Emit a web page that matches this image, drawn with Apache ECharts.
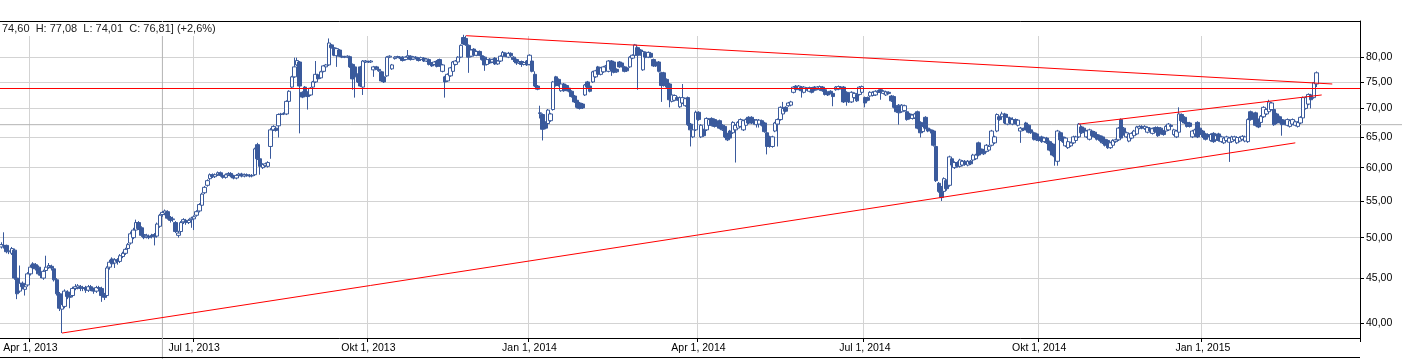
<!DOCTYPE html>
<html><head><meta charset="utf-8">
<script src="https://cdn.jsdelivr.net/npm/echarts@6/dist/echarts.min.js"></script>
<style>html,body{margin:0;padding:0;background:#fff}#c{width:1402px;height:359px}</style>
</head><body><div id="c"></div>
<script>
// ---------- data ----------
const slotCount = 515; // trading-day slots on the x axis (data + empty right margin)
const holidays = ['2013-03-29','2013-04-01','2013-05-01','2013-12-24','2013-12-25','2013-12-26','2013-12-31','2014-01-01','2014-04-18','2014-04-21','2014-05-01','2014-12-24','2014-12-25','2014-12-26','2014-12-31','2015-01-01'];
const quarterStarts = [11,73,139,200,264,327,393,455];
const quarterLabels = ['Apr 1, 2013','Jul 1, 2013','Okt 1, 2013','Jan 1, 2014','Apr 1, 2014','Jul 1, 2014','Okt 1, 2014','Jan 1, 2015'];
const yTicks = [40,45,50,55,60,65,70,75,80];
const yMin = 38.5, yMax = 87.9;
// [open, close, low, high]
const ohlc = [
[48.8,49.1,48.6,49.4],[49.0,48.9,48.6,50.7],[49.0,48.2,48.0,49.1],[48.2,48.3,47.9,48.6],[48.0,48.6,47.8,48.8],
[48.4,45.0,44.8,48.6],[45.0,43.2,42.6,45.2],[43.5,44.4,43.3,46.5],[44.4,44.0,43.7,44.6],[43.7,44.0,43.0,44.3],
[44.2,45.5,44.0,45.7],[45.5,46.3,45.3,46.6],[46.7,46.2,46.0,46.9],[46.6,46.1,45.9,46.8],[46.3,45.5,45.3,46.5],
[45.6,45.3,45.0,45.8],[45.0,45.8,44.8,46.0],[45.9,46.3,45.7,47.7],[46.3,46.5,46.1,46.8],[46.4,46.2,45.9,46.6],
[46.1,44.8,44.6,46.3],[44.8,43.2,43.0,45.0],[43.2,41.6,41.3,43.4],[41.5,42.0,39.0,42.3],[41.8,43.5,41.6,43.7],
[43.4,42.9,42.6,43.6],[42.9,42.8,41.6,43.1],[43.0,43.8,42.8,44.0],[43.8,44.0,43.6,44.3],[43.9,44.1,43.7,44.3],
[44.0,43.8,43.5,44.2],[43.8,43.9,43.5,44.1],[43.9,43.6,43.3,44.1],[43.6,44.0,43.4,44.2],[44.0,43.7,43.5,44.2],
[43.7,43.5,43.2,43.9],[43.5,43.9,43.3,44.1],[43.9,43.8,43.5,44.1],[43.8,43.0,42.3,44.0],[43.1,42.8,42.5,43.3],
[43.0,46.2,42.8,46.4],[46.3,46.9,46.0,47.2],[47.3,46.7,46.5,47.5],[46.8,47.2,46.2,47.4],[47.2,47.0,46.6,47.4],
[47.0,47.7,46.8,47.9],[47.6,48.0,47.4,48.2],[48.0,48.5,47.8,48.7],[48.6,49.1,48.4,49.3],[49.3,50.5,49.1,50.8],
[50.0,51.0,49.8,51.3],[51.0,52.0,50.8,52.4],[52.0,51.2,51.0,52.2],[51.3,50.3,50.1,51.5],[50.4,50.0,49.8,50.6],
[50.1,50.3,49.9,50.5],[50.2,50.0,49.8,50.4],[50.3,50.2,49.9,50.5],[50.4,50.1,49.0,50.6],[50.2,51.8,50.0,52.0],
[51.5,53.0,51.3,53.2],[53.1,53.4,52.8,53.6],[53.3,53.6,53.0,53.8],[53.5,52.6,52.4,53.7],[52.7,52.3,52.0,52.9],
[52.4,52.5,52.1,52.8],[52.0,50.8,50.6,52.2],[50.3,50.6,50.0,50.9],[50.8,52.0,50.6,52.2],[52.1,52.4,51.8,52.6],
[52.3,52.0,51.7,52.5],[52.0,52.3,51.8,52.5],[52.4,52.6,51.3,52.8],[52.5,52.8,51.0,53.0],[53.0,53.5,52.8,53.7],
[53.6,54.5,53.4,54.7],[54.4,56.0,54.2,56.2],[56.2,57.0,56.0,57.2],[57.3,58.0,57.1,58.2],[58.3,58.9,58.1,59.1],
[58.9,58.6,58.4,59.1],[58.6,58.9,58.4,59.1],[58.9,59.2,58.7,59.4],[59.2,58.8,58.6,59.4],[58.8,58.5,58.3,59.0],
[58.5,58.9,58.3,59.1],[58.9,59.1,58.7,59.3],[59.1,58.7,58.5,59.3],[58.7,58.4,58.2,58.9],[58.4,58.8,58.2,59.0],
[58.8,59.0,58.6,59.2],[59.0,58.7,58.5,59.2],[58.7,58.9,58.5,59.1],[58.9,58.8,58.6,59.1],[58.8,58.7,58.5,59.0],
[58.7,58.8,58.5,59.0],[58.9,63.0,58.7,63.2],[63.7,61.4,61.2,64.0],[61.4,60.2,58.9,61.6],[60.0,60.5,59.8,60.7],
[60.3,60.6,60.1,60.8],[60.2,60.8,60.0,61.0],[63.4,66.2,61.4,66.5],[66.2,66.8,66.0,67.0],[66.5,66.1,65.9,66.7],
[66.9,68.9,64.9,69.1],[68.9,69.0,68.7,69.2],[69.0,69.1,68.8,69.3],[69.0,71.3,68.8,71.5],[71.3,73.2,71.1,73.4],
[74.0,76.0,73.8,76.2],[76.0,78.0,75.8,79.9],[78.4,79.3,78.2,79.9],[79.0,74.2,65.6,79.2],[73.0,72.1,71.9,73.2],
[74.0,73.0,72.8,74.2],[73.0,72.2,69.8,73.2],[72.5,73.8,72.3,74.0],[74.0,75.0,73.8,75.2],[75.0,76.5,74.8,79.2],
[76.4,75.6,75.4,76.6],[75.8,77.0,75.6,77.2],[77.1,78.2,76.9,78.4],[78.0,78.4,77.8,78.6],[78.4,83.0,78.2,84.0],
[82.6,82.0,81.8,82.8],[82.0,80.4,80.2,82.2],[80.3,81.8,78.0,82.0],[81.5,80.2,80.0,81.7],[80.2,80.0,79.8,80.4],
[80.0,80.1,79.8,80.3],[80.0,80.2,79.8,80.4],[80.1,78.0,77.8,80.3],[78.5,75.6,73.5,78.7],[78.0,76.0,72.0,78.2],
[76.5,75.0,74.8,76.7],[78.0,74.2,74.0,78.2],[74.0,79.2,72.5,79.4],[79.0,79.2,78.8,79.4],[79.1,79.0,78.8,79.3],
[79.0,79.2,78.8,79.4],[77.4,78.0,76.0,78.2],[78.0,77.6,77.4,78.2],[77.5,77.2,77.0,77.7],[77.0,75.2,75.0,77.2],
[76.0,75.0,74.8,76.2],[76.2,80.0,76.0,80.2],[80.0,80.2,79.8,80.4],[77.6,78.4,77.4,78.6],[79.7,80.0,79.5,80.2],
[80.0,80.1,79.8,80.3],[80.0,79.8,79.6,80.2],[80.0,79.3,79.1,80.2],[79.5,80.0,79.3,80.2],[80.0,80.3,79.8,81.5],
[80.2,79.5,79.3,80.4],[79.6,80.0,79.4,80.2],[80.0,79.8,79.6,80.2],[79.8,79.3,79.1,80.0],[79.5,79.9,79.3,80.1],
[79.8,79.2,79.0,80.0],[79.2,79.6,79.0,79.8],[79.5,78.5,78.3,79.7],[78.8,78.2,78.0,79.0],[78.5,79.0,78.3,79.2],
[79.2,78.1,77.9,79.4],[79.5,78.2,78.0,79.7],[77.1,78.4,76.9,78.6],[76.0,75.0,72.0,76.2],[75.2,76.5,75.0,76.7],
[76.2,77.8,76.0,78.0],[77.1,79.0,76.9,79.2],[78.5,79.2,78.3,79.4],[79.0,80.0,78.8,80.2],[80.0,82.5,79.8,82.7],
[84.2,82.8,82.6,84.8],[84.0,82.6,82.4,84.6],[82.5,80.0,76.8,82.7],[80.2,81.5,80.0,81.7],[81.7,80.4,80.2,81.9],
[80.4,81.2,80.2,81.4],[81.2,80.4,80.2,81.4],[80.3,79.5,79.3,80.5],[80.0,78.4,77.2,80.2],[78.5,79.5,78.3,79.7],
[79.6,78.8,78.6,79.8],[79.0,79.5,78.8,79.7],[79.8,78.6,78.4,80.0],[78.6,79.2,78.4,79.4],[79.2,80.2,79.0,80.4],
[80.2,81.0,80.0,81.3],[80.8,80.2,80.0,81.0],[80.0,80.8,79.8,81.1],[80.8,80.3,80.1,81.0],[80.0,79.5,79.0,80.2],
[79.5,78.8,78.4,79.7],[78.8,79.1,78.6,79.3],[79.1,78.5,78.0,79.3],[78.5,78.9,78.3,79.1],[79.2,78.4,78.2,79.4],
[78.5,80.4,78.3,80.6],[79.2,77.1,76.9,79.4],[76.5,74.2,74.0,77.1],[74.2,73.6,73.4,74.4],[69.2,69.1,68.2,70.5],
[68.9,66.3,64.4,69.1],[67.5,66.5,66.3,67.7],[67.3,69.7,67.1,69.9],[67.8,69.0,67.6,69.2],[69.8,75.0,69.6,75.2],
[76.0,74.3,74.1,76.2],[75.5,74.3,74.1,75.7],[73.3,74.6,73.1,74.8],[74.6,73.3,73.1,74.8],[74.3,73.4,73.2,74.5],
[73.8,73.2,73.0,74.0],[73.2,72.2,72.0,73.4],[72.3,71.2,71.0,72.5],[71.5,70.2,70.0,71.7],[71.0,70.0,69.8,71.2],
[70.8,70.1,69.9,71.0],[72.5,74.4,72.3,74.6],[75.0,74.0,73.8,75.2],[74.2,73.2,73.0,74.4],[75.0,77.0,74.8,77.2],
[76.0,77.2,75.8,77.4],[78.0,76.5,76.3,78.2],[76.5,77.8,76.3,78.0],[77.0,78.0,76.8,78.2],[78.0,78.2,77.8,78.4],
[77.1,79.2,76.9,79.4],[79.2,77.5,76.2,79.4],[79.0,76.9,76.7,79.2],[77.5,77.0,76.8,77.7],[79.0,78.0,77.8,79.2],
[78.8,78.1,77.9,79.0],[78.0,77.1,76.9,78.2],[77.8,77.2,77.0,78.0],[78.0,80.0,77.8,80.2],[79.8,80.4,79.6,80.6],
[80.4,82.6,80.2,82.8],[82.0,80.4,73.5,82.2],[81.5,80.5,80.3,81.7],[77.4,81.2,77.2,81.4],[81.0,80.0,79.8,81.2],
[80.0,81.0,79.8,81.2],[80.8,80.0,79.8,81.0],[79.5,78.2,78.0,79.7],[79.0,78.2,78.0,79.2],[79.0,77.1,76.9,79.2],
[76.8,74.3,71.2,77.0],[76.8,74.3,74.1,77.0],[75.5,74.0,73.8,75.7],[74.6,71.6,70.2,74.8],[71.3,72.5,71.1,72.7],
[71.5,72.4,71.3,72.6],[72.0,71.6,71.4,72.2],[70.3,72.0,70.1,72.2],[71.0,72.0,70.8,74.6],[70.5,71.8,70.3,72.0],
[72.0,67.1,66.9,72.2],[67.2,66.2,63.4,67.4],[65.0,66.2,64.8,66.4],[66.2,69.3,66.0,69.6],[69.3,68.0,67.8,69.5],
[65.0,67.0,64.8,67.2],[66.2,65.2,65.0,66.4],[66.2,68.2,66.0,68.4],[67.0,68.0,66.8,68.2],[68.2,67.0,66.8,68.4],
[68.0,66.8,66.6,68.2],[67.5,67.0,66.8,67.7],[67.8,66.5,66.3,68.0],[67.0,66.2,66.0,67.2],[66.8,65.0,64.8,67.0],
[65.5,64.5,64.3,65.7],[66.0,64.8,64.6,66.2],[65.7,67.5,65.5,67.7],[66.2,67.0,60.8,67.2],[66.5,67.5,66.3,67.7],
[66.8,68.0,66.6,68.2],[66.2,67.8,66.0,68.0],[67.0,68.0,66.8,68.2],[68.4,67.4,67.2,68.6],[68.4,67.4,67.2,68.6],
[68.0,67.6,67.1,68.2],[67.1,67.9,66.6,68.1],[67.2,67.9,66.6,68.1],[67.8,67.0,66.8,68.0],[67.4,65.9,65.7,67.6],
[65.7,63.4,62.1,65.9],[65.0,63.4,63.2,65.2],[63.4,65.0,63.2,65.2],[66.0,67.4,65.8,67.6],[67.2,68.0,63.4,68.2],
[68.0,70.2,67.8,70.4],[69.0,70.0,68.8,71.2],[70.2,69.5,69.3,70.4],[70.5,71.0,70.3,71.2],[70.6,71.2,70.4,71.4],
[73.0,74.0,72.8,74.2],[74.2,73.5,73.3,74.4],[73.6,74.2,73.4,74.4],[74.0,73.3,72.0,74.2],[73.0,74.0,72.8,74.2],
[73.5,73.8,73.3,74.0],[73.2,73.9,73.0,74.1],[73.8,73.0,72.8,74.0],[74.0,73.4,73.2,74.2],[73.6,74.0,73.4,74.2],
[73.5,74.1,73.3,74.3],[74.0,73.3,73.1,74.2],[73.5,72.6,72.4,73.7],[73.0,72.5,72.3,73.2],[73.2,72.8,72.6,73.4],
[72.8,72.2,70.4,73.0],[73.5,74.0,73.3,74.2],[73.6,74.1,73.4,74.3],[74.0,73.8,73.6,74.2],[74.0,71.2,71.0,74.2],
[73.0,71.5,70.5,73.2],[72.3,71.2,71.0,72.5],[71.2,73.0,71.0,73.2],[72.0,72.8,71.8,73.0],[72.6,71.4,71.2,72.8],
[72.6,74.0,72.4,74.2],[73.0,74.1,72.8,74.3],[72.0,71.0,70.2,72.2],[72.0,71.5,71.3,72.2],[72.3,73.0,72.1,73.2],
[72.4,73.0,72.2,73.2],[72.5,73.2,72.3,73.4],[73.0,73.2,72.8,73.4],[73.5,73.0,71.6,73.7],[72.8,73.2,72.6,73.4],
[72.5,73.1,72.3,73.3],[73.0,72.8,72.6,73.2],[72.3,71.4,71.2,72.5],[72.2,70.2,70.0,72.4],[70.4,69.4,69.2,70.6],
[70.6,69.2,67.1,70.8],[69.4,70.6,69.2,70.8],[69.6,70.5,69.4,70.7],[69.4,68.0,67.8,69.6],[69.0,68.2,68.0,69.2],
[68.2,68.8,68.0,69.0],[68.3,69.0,68.1,69.2],[69.4,66.5,66.3,69.6],[67.5,65.7,64.9,67.7],[65.9,66.8,65.7,67.0],
[68.4,66.5,66.3,68.6],[66.5,66.0,65.8,66.7],[66.2,66.0,65.6,66.4],[66.0,63.6,63.4,66.2],[63.4,58.0,57.8,63.6],
[57.6,56.4,56.2,57.8],[57.0,55.5,55.0,57.2],[56.4,58.3,56.2,58.5],[58.0,56.8,56.5,58.2],[57.3,61.7,57.1,61.9],
[61.4,60.4,60.2,61.6],[60.0,60.8,59.8,61.0],[60.8,60.2,60.0,61.0],[60.2,61.2,60.0,61.4],[60.4,61.0,60.2,61.2],
[61.0,60.5,60.3,61.2],[60.4,61.0,60.2,61.2],[61.0,60.6,60.4,61.2],[61.2,62.0,61.0,62.2],[61.4,62.0,61.2,62.2],
[64.0,62.0,61.8,64.2],[63.0,62.4,62.2,63.2],[62.8,62.2,62.0,63.0],[62.6,63.6,62.4,63.8],[62.8,63.4,62.6,63.6],
[63.6,66.0,63.4,66.2],[64.0,65.0,63.8,65.2],[66.0,68.9,65.8,69.1],[68.5,68.0,67.8,68.7],[68.5,69.0,68.3,69.4],
[69.0,67.4,67.2,69.2],[67.2,68.4,67.0,69.0],[68.3,67.4,67.2,68.5],[67.2,68.0,67.0,68.4],[68.0,67.3,67.1,68.2],
[67.0,67.9,66.8,68.1],[66.0,66.5,64.0,66.7],[66.4,66.2,66.0,66.6],[67.4,66.3,66.1,67.6],[67.0,65.8,65.6,67.2],
[66.2,65.7,65.5,66.4],[65.7,64.6,64.4,65.9],[65.5,64.5,64.3,65.7],[65.0,64.4,64.2,65.2],[65.0,64.2,64.0,65.2],
[64.2,64.8,64.0,65.0],[64.8,64.0,63.8,65.0],[64.2,62.8,62.6,64.4],[63.8,62.0,61.8,64.0],[62.3,61.7,60.3,62.5],
[61.0,66.0,60.3,66.2],[65.7,64.5,64.3,65.9],[65.0,64.2,64.0,65.2],[63.5,64.8,63.3,65.0],[63.2,64.2,63.0,64.4],
[63.5,64.0,63.3,64.2],[64.0,65.0,63.8,65.2],[64.4,65.0,64.2,65.2],[65.0,67.2,64.8,67.4],[66.7,65.7,65.5,66.9],
[66.5,65.9,65.7,66.7],[65.0,66.0,64.8,66.2],[64.6,66.2,64.4,66.4],[66.0,65.2,65.0,66.2],[65.8,65.0,64.8,66.0],
[65.4,64.6,64.4,65.6],[65.2,64.4,64.2,65.4],[65.0,64.0,63.8,65.2],[64.6,63.6,63.4,64.8],[64.4,63.2,63.0,64.6],
[63.2,64.0,63.0,64.2],[63.6,64.4,63.4,64.6],[64.2,64.5,64.0,64.7],[64.5,66.5,64.3,66.7],[68.0,64.8,64.6,68.2],
[66.5,65.4,65.2,66.7],[65.0,65.7,64.8,65.9],[64.3,65.5,64.1,65.7],[64.8,65.6,64.6,65.8],[65.2,66.0,65.0,66.2],
[65.5,66.7,65.3,66.9],[66.5,66.8,66.3,67.0],[66.8,66.5,66.3,67.0],[66.4,66.8,66.2,67.0],[65.8,66.6,65.6,66.8],
[66.5,66.0,65.8,66.7],[65.6,66.4,65.4,66.6],[66.6,65.9,65.7,66.8],[66.6,65.2,65.0,66.8],[66.5,65.6,65.4,66.7],
[66.0,65.4,65.2,66.2],[66.0,66.8,65.8,67.0],[66.2,67.2,66.0,67.4],[67.0,66.8,66.6,67.2],[65.4,66.2,65.2,66.4],
[65.0,66.0,64.8,66.2],[65.8,69.0,65.7,70.2],[68.9,67.8,67.6,69.1],[68.4,67.4,67.2,68.6],[67.5,66.8,66.6,67.7],
[67.4,66.8,66.6,67.6],[65.0,66.0,64.8,66.2],[65.5,66.2,65.3,66.4],[67.5,65.0,64.8,67.7],[66.5,65.4,65.2,66.7],
[66.0,65.0,64.8,66.2],[65.5,64.6,64.4,65.7],[65.4,65.0,64.8,65.6],[64.4,65.4,64.2,65.6],[65.6,64.2,64.0,65.8],
[64.5,65.2,64.3,65.4],[65.5,64.4,64.2,65.7],[64.2,65.0,64.0,65.2],[64.0,64.8,63.8,65.0],[64.4,65.0,64.2,65.2],
[64.1,64.8,60.9,65.0],[64.2,65.0,64.0,65.2],[64.5,65.0,64.3,65.2],[64.0,64.9,63.8,65.1],[64.3,64.9,64.1,65.1],
[64.6,65.1,64.4,65.3],[64.3,65.0,64.1,65.2],[64.2,68.0,64.0,68.2],[69.4,68.0,67.8,69.6],[69.0,68.2,68.0,69.2],
[69.2,67.0,66.8,69.4],[68.0,66.7,66.5,68.2],[67.5,68.6,67.3,68.8],[68.5,70.2,68.3,70.4],[69.0,69.8,68.8,70.0],
[69.4,71.2,69.2,71.6],[69.8,71.0,69.6,71.2],[69.8,67.1,66.9,70.0],[69.0,67.4,67.2,69.2],[68.5,67.5,67.3,68.7],
[68.0,67.1,65.2,68.2],[67.8,67.2,67.0,68.0],[67.0,68.0,66.8,68.2],[66.8,67.8,66.6,68.0],[67.2,68.0,67.0,68.2],
[67.0,67.6,66.8,67.8],[66.8,67.5,66.6,67.7],[67.4,68.4,67.2,68.6],[68.3,72.0,68.1,72.2],[70.0,72.0,69.8,72.2],
[70.8,72.6,70.6,72.8],[72.5,71.6,70.0,72.7],[72.0,74.86,71.8,75.0],[74.60,76.81,74.01,77.08]
];
// red trend lines: [slot index, price]
const supportLine = [[23,39.0],[490,64.0]];
const resistanceLine = [[176,84.6],[504,74.6]];
const channelLine = [[408,67.2],[500,72.5]];
const horizontalLevel = 73.8;
// crosshair position
const crosshairIndex = 61;
const crosshairValue = 67.1;

// ---------- build ----------
const categories = [];
(function(){
  const d = new Date(Date.UTC(2013,2,14));
  while (categories.length < slotCount) {
    const dow = d.getUTCDay();
    const s = d.toISOString().slice(0,10);
    if (dow !== 0 && dow !== 6 && holidays.indexOf(s) < 0) categories.push(s);
    d.setUTCDate(d.getUTCDate()+1);
  }
})();
const fmt = v => v.toFixed(2).replace('.', ',');
const last = ohlc[ohlc.length-1], prev = ohlc[ohlc.length-2];
const pct = ((last[1]/prev[1]-1)*100).toFixed(1).replace('.', ',');
const infoText = fmt(last[0]) + '  H: ' + fmt(last[3]) + '  L: ' + fmt(last[2]) + '  C: ' + fmt(last[1]) + '] (+' + pct + '%)';

const isQuarter = (idx) => quarterStarts.indexOf(idx) >= 0;
const blue = '#3a5a9c';
const red = '#ff0000';
const FONT = '"Liberation Sans", Arial, sans-serif';

const chart = echarts.init(document.getElementById('c'), null, {renderer: 'canvas'});
const lineSeries = (data) => ({
  type: 'line', data: data, symbol: 'none', silent: true, z: 5,
  lineStyle: {color: red, width: 1}, animation: false
});
chart.setOption({
  animation: false,
  backgroundColor: '#fff',
  grid: {left: 0, right: 42, top: 21, bottom: 21, containLabel: false},
  xAxis: [{
    type: 'category', data: categories, boundaryGap: true,
    axisLine: {show: true, lineStyle: {color: '#000', width: 1}},
    axisTick: {show: true, interval: (i) => isQuarter(i), length: 4, lineStyle: {color: '#000'}},
    axisLabel: {show: true, interval: (i) => isQuarter(i), margin: 5, color: '#000', fontSize: 10.5, fontFamily: FONT,
      formatter: (v, i) => quarterLabels[quarterStarts.indexOf(i)] || ''},
    splitLine: {show: true, interval: (i) => isQuarter(i), lineStyle: {color: '#d3d3d3', width: 1}}
  }, {
    type: 'category', data: categories, position: 'top',
    axisLine: {show: true, lineStyle: {color: '#000', width: 1}},
    axisTick: {show: false}, axisLabel: {show: false}, splitLine: {show: false}
  }],
  yAxis: {
    type: 'log', logBase: 10, position: 'right', min: yMin, max: yMax, scale: true,
    axisLine: {show: true, lineStyle: {color: '#000', width: 1}},
    axisTick: {show: true, length: 4, customValues: yTicks, lineStyle: {color: '#000'}},
    axisLabel: {show: true, customValues: yTicks, margin: 6, color: '#000', fontSize: 10.5, fontFamily: FONT,
      formatter: (v) => fmt(v)},
    splitLine: {show: true, lineStyle: {color: '#d3d3d3', width: 1}}
  },
  series: [{
    type: 'candlestick', data: ohlc, barWidth: 4, z: 3,
    itemStyle: {color: '#ffffff', color0: blue, borderColor: blue, borderColor0: blue, borderWidth: 1},
    markLine: {silent: true, symbol: 'none', label: {show: false},
      lineStyle: {color: red, width: 1, type: 'solid'}, data: [{yAxis: horizontalLevel}]}
  },
  lineSeries(supportLine), lineSeries(resistanceLine), lineSeries(channelLine)]
});

const p = chart.convertToPixel({gridIndex: 0}, [crosshairIndex, crosshairValue]);
chart.setOption({
  graphic: [
    {type: 'line', z: 1, silent: true, shape: {x1: 0, y1: p[1], x2: 1402, y2: p[1]}, style: {stroke: '#b4b4b4', lineWidth: 1}},
    {type: 'line', z: 1, silent: true, shape: {x1: p[0], y1: 21, x2: p[0], y2: 359}, style: {stroke: '#b4b4b4', lineWidth: 1}},
    {type: 'rect', z: 1, silent: true, shape: {x: 0, y: 22, width: 1359, height: 14}, style: {fill: '#fff'}},
    {type: 'line', z: 1, silent: true, shape: {x1: 0, y1: 357.5, x2: 1360, y2: 357.5}, style: {stroke: '#000', lineWidth: 1}},
    {type: 'text', z: 10, silent: true, left: 2, top: 23, style: {text: infoText, fill: '#222', font: '11px ' + FONT}}
  ]
});
</script></body></html>
